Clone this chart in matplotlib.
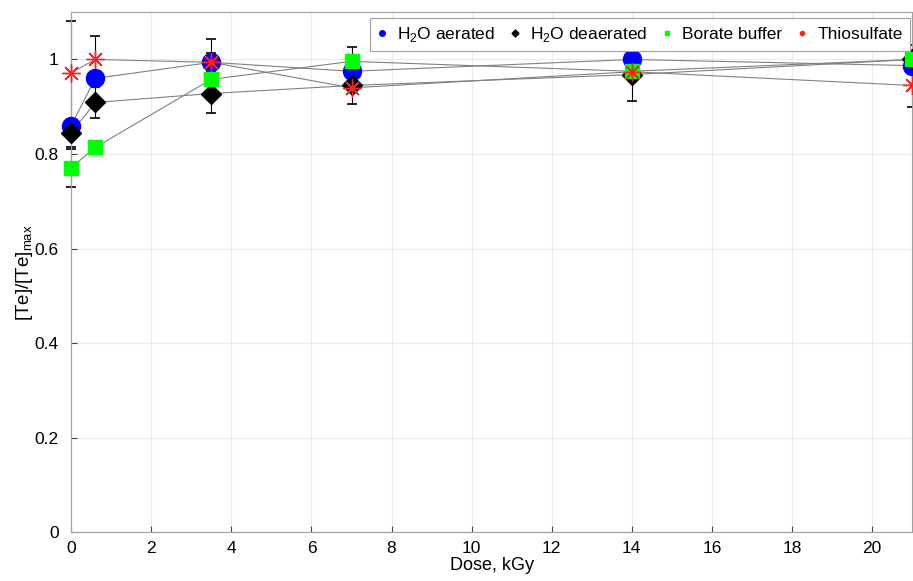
import matplotlib.pyplot as plt
from matplotlib.lines import Line2D

plt.rcParams['font.family'] = ['Liberation Sans', 'DejaVu Sans']
plt.rcParams['mathtext.fontset'] = 'custom'
plt.rcParams['mathtext.rm'] = 'Liberation Sans'

dose = [0, 0.6, 3.5, 7, 14, 21]

aerated = [0.860, 0.960, 0.994, 0.975, 1.000, 0.987]
aerated_err = [0.0, 0.0, 0.02, 0.0, 0.0, 0.0]
deaerated = [0.845, 0.909, 0.928, 0.945, 0.968, 1.000]
deaerated_err = [0.03, 0.032, 0.042, 0.04, 0.055, 0.03]
borate = [0.771, 0.814, 0.958, 0.996, 0.975, 1.000]
borate_err = [0.04, 0.0, 0.0, 0.03, 0.0, 0.0]
thio = [0.972, 1.000, 0.994, 0.940, 0.974, 0.945]
thio_err = [0.11, 0.05, 0.05, 0.0, 0.0, 0.045]

labels = ['H$_\\mathrm{2}$O aerated', 'H$_\\mathrm{2}$O deaerated',
          'Borate buffer', 'Thiosulfate']

fig = plt.figure(figsize=(9.13, 5.81), dpi=100)
ax = fig.add_axes([0.078, 0.084, 0.921, 0.895])

series = [
    (aerated, aerated_err, 'o', '#0000ff', 13),
    (deaerated, deaerated_err, 'D', 'black', 10),
    (borate, borate_err, 's', '#00ff00', 9.5),
    (thio, thio_err, (8, 2, 0), '#ff2020', 13),
]

for vals, err, mk, col, ms in series:
    eb = ax.errorbar(dose, vals, yerr=err, fmt='none', ecolor='black',
                     elinewidth=0.8, capsize=3.5, capthick=1.2, zorder=2)
    for part in eb.lines[1] + eb.lines[2]:
        part.set_clip_on(False)
    ax.plot(dose, vals, '-', color='#808080', lw=0.8, zorder=3)
    if mk == (8, 2, 0):
        ax.plot(dose, vals, ls='none', marker=mk, ms=ms, mec=col, mew=1.0,
                zorder=4, clip_on=False)
    else:
        ax.plot(dose, vals, ls='none', marker=mk, ms=ms, color=col, zorder=4,
                clip_on=False)

handles = [Line2D([], [], ls='none', marker='o', ms=4, color='#0000ff'),
           Line2D([], [], ls='none', marker='D', ms=3.5, color='black'),
           Line2D([], [], ls='none', marker='s', ms=3.5, color='#00ff00'),
           Line2D([], [], ls='none', marker='o', ms=3, color='#ff2020')]
leg = ax.legend(handles, labels, ncol=4, loc='upper right',
                bbox_to_anchor=(0.997, 0.989), borderaxespad=0, fontsize=12.5,
                handlelength=0.6, handletextpad=0.6, columnspacing=0.8,
                fancybox=False, framealpha=1, borderpad=0.4)
leg.get_frame().set_edgecolor('#a0a0a0')
leg.get_frame().set_linewidth(0.8)

ax.set_xlim(0, 21)
ax.set_ylim(0, 1.1)
ax.set_xticks(range(0, 21, 2))
ax.set_yticks([0, 0.2, 0.4, 0.6, 0.8, 1])
ax.set_yticklabels(['0', '0.2', '0.4', '0.6', '0.8', '1'])
ax.tick_params(direction='in', labelsize=12.5, color='#404040', length=4)
ax.tick_params(axis='y', pad=9)
ax.tick_params(axis='x', pad=6)
ax.grid(True, color='#ececec', lw=0.8)
ax.set_axisbelow(True)
for s in ax.spines.values():
    s.set_color('#a0a0a0')
    s.set_linewidth(0.8)
ax.set_xlabel('Dose, kGy', fontsize=13, labelpad=1)
ax.set_ylabel('[Te]/[Te]$_\\mathrm{max}$', fontsize=13.5, labelpad=0)

fig.savefig('out.png', dpi=100)
